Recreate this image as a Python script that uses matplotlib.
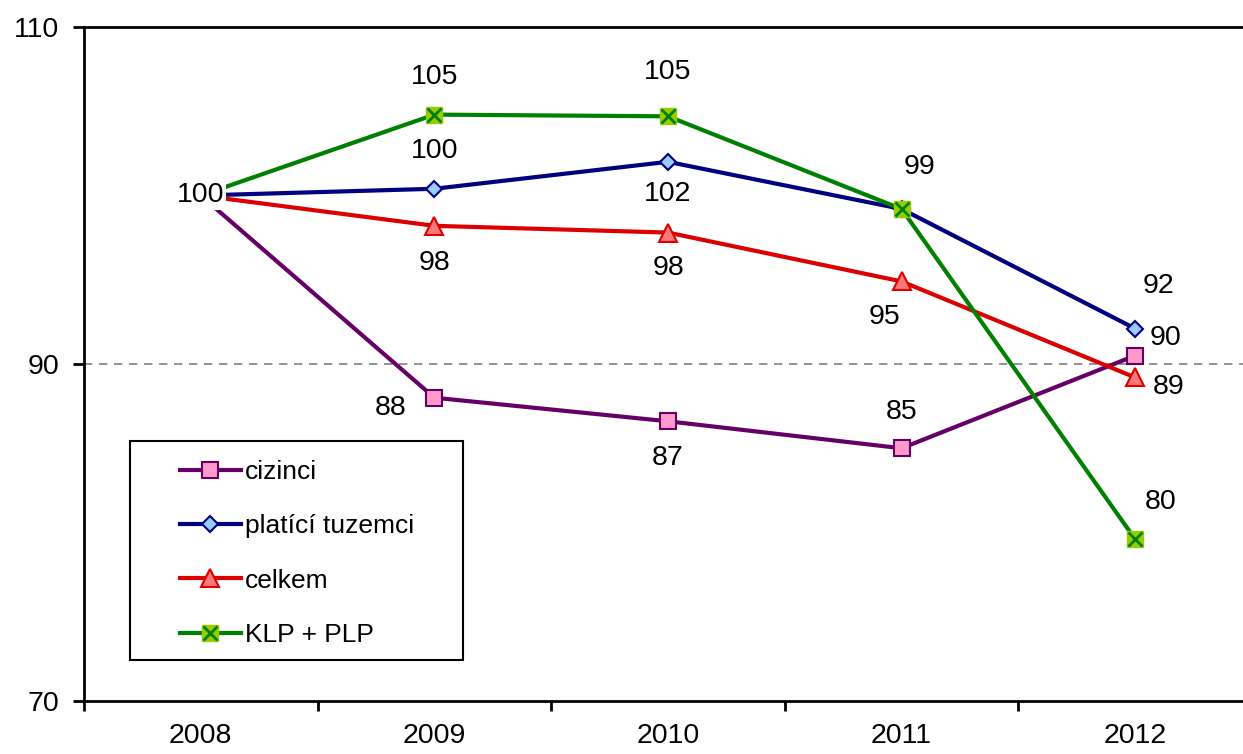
import matplotlib.pyplot as plt
from matplotlib.patches import Rectangle

plt.rcParams['font.family'] = ['Liberation Sans', 'DejaVu Sans']

years = ['2008', '2009', '2010', '2011', '2012']
cizinci = [100, 88.0, 86.6, 85.0, 90.5]
tuzemci = [100, 100.4, 102.0, 99.2, 92.1]
celkem = [100, 98.2, 97.8, 94.9, 89.2]
klp_plp = [100, 104.8, 104.7, 99.2, 79.6]

# data labels: (series, index, text, offset in pixels)
labels = [
    (klp_plp, 1, '105', (0, 38)),
    (tuzemci, 1, '100', (0, 38)),
    (celkem, 1, '98', (0, -37)),
    (cizinci, 1, '88', (-44, -10)),
    (klp_plp, 2, '105', (0, 44)),
    (tuzemci, 2, '102', (0, -32)),
    (celkem, 2, '98', (0, -35)),
    (cizinci, 2, '87', (0, -37)),
    (klp_plp, 3, '99', (18, 42)),
    (celkem, 3, '95', (-17, -36)),
    (cizinci, 3, '85', (0, 36)),
    (tuzemci, 4, '92', (23, 43)),
    (cizinci, 4, '90', (30, 18)),
    (celkem, 4, '89', (33, -10)),
    (klp_plp, 4, '80', (25, 37)),
]

W, H = 1243, 754
fig = plt.figure(figsize=(W / 100, H / 100), dpi=100)
ax = fig.add_axes([84 / W, 1 - 701 / H, 1168 / W, 674 / H])
x = list(range(len(years)))

lw = 3
l1, = ax.plot(x, cizinci, color='#660066', lw=lw, marker='s', ms=12,
              mfc='#FF99CC', mec='#660066', mew=1.5, label='cizinci')
l2, = ax.plot(x, tuzemci, color='#000080', lw=lw, marker='D', ms=8.5,
              mfc='#99CCFF', mec='#000080', mew=1.5, label='platící tuzemci')
l3, = ax.plot(x, celkem, color='#DD0000', lw=lw, marker='^', ms=13,
              mfc='#FF7777', mec='#DD0000', mew=1.5, label='celkem')
l4, = ax.plot(x, klp_plp, color='#008000', lw=lw, marker='s', ms=11,
              mfc='#99CC00', mec='#99CC00', mew=1)
l4x, = ax.plot(x, klp_plp, color='#008000', lw=0, marker='x', ms=10,
               mec='#008000', mew=2)

ax.axhline(90, color='#808080', lw=1.2, ls=(0, (5, 4)), zorder=0)

fs = 20.5
ax.text(0, 100, '100', ha='center', va='center', fontsize=fs, zorder=10,
        bbox=dict(fc='white', ec='none', pad=1))
for s, i, t, off in labels:
    ax.annotate(t, (i, s[i]), xytext=off, textcoords='offset pixels',
                ha='center', va='center', fontsize=fs)

ax.set_xlim(-0.5, 4.5)
ax.set_ylim(70, 110)
ax.set_yticks([70, 90, 110])
ax.set_xticks(x)
ax.set_xticklabels(years)
ax.set_xticks([i + 0.5 for i in range(-1, 5)], minor=True)
ax.tick_params(axis='x', which='major', length=0, pad=16, labelsize=fs)
ax.tick_params(axis='x', which='minor', length=7, width=2, direction='out')
ax.tick_params(axis='y', length=8, width=2, direction='out', labelsize=fs, pad=10)
for sp in ax.spines.values():
    sp.set_linewidth(2)

# legend box drawn by hand, legend itself without frame
box = Rectangle((130 / W, 1 - 660 / H), 333 / W, 219 / H,
                transform=fig.transFigure, fc='white', ec='black',
                lw=1.5, zorder=5, clip_on=False)
ax.add_artist(box)
handles = [l1, l2, l3, (l4, l4x)]
names = ['cizinci', 'platící tuzemci', 'celkem', 'KLP + PLP']
leg = ax.legend(handles, names, loc='upper left',
                bbox_to_anchor=(180 / W, 1 - 460 / H), bbox_transform=fig.transFigure,
                fontsize=19, frameon=False, handlelength=2.3, handletextpad=0.15,
                labelspacing=1.15, borderpad=0, borderaxespad=0)
leg.set_zorder(6)

fig.savefig('out.png', dpi=100)
